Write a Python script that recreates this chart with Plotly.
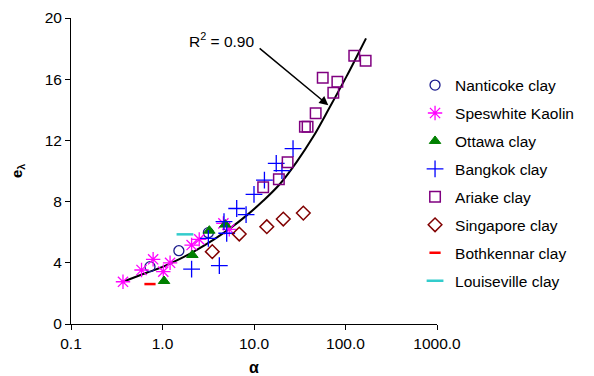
import math
import plotly.graph_objects as go

# ---- data ----
nanticoke_x = [0.73, 1.51, 3.17]
nanticoke_y = [3.75, 4.79, 5.97]

speswhite_x = [0.37, 0.59, 0.79, 1.02, 1.21, 2.08, 2.52, 4.63, 5.37]
speswhite_y = [2.76, 3.53, 4.23, 3.42, 4.00, 5.16, 5.53, 6.58, 6.19]

ottawa_x = [1.04, 2.12, 3.25, 4.85]
ottawa_y = [2.81, 4.51, 6.10, 6.50]

bangkok_x = [2.08, 4.18, 3.17, 5.03, 4.70, 6.47, 8.19, 10.0, 13.0, 17.5, 20.2, 26.7]
bangkok_y = [3.59, 3.81, 5.60, 5.93, 6.69, 7.55, 7.15, 8.47, 9.41, 10.5, 10.02, 11.46]

ariake_x = [12.6, 18.7, 23.3, 36.0, 38.5, 47.2, 73.6, 56.4, 81.5, 124.7, 166.0]
ariake_y = [8.93, 9.46, 10.57, 12.9, 12.9, 13.77, 15.12, 16.1, 15.84, 17.54, 17.21]

singapore_x = [3.5, 6.9, 13.8, 20.9, 34.6]
singapore_y = [4.73, 5.88, 6.36, 6.86, 7.25]

bothkennar_x = [0.73]
bothkennar_y = [2.61]

louiseville_x = [1.76]
louiseville_y = [5.86]

# trend curve (R^2 = 0.90)
fit_x = [0.37, 0.67, 1.02, 1.55, 2.37, 3.59, 5.47, 8.32, 12.6, 19.2, 29.3, 44.5, 67.7, 103.0, 132.0, 167.6]
fit_y = [2.76, 3.35, 3.75, 4.25, 4.85, 5.5, 6.25, 7.1, 8.05, 9.15, 10.6, 12.25, 14.2, 16.2, 17.45, 18.67]

# annotation anchor values (data units)
r2_label_pos = (4.36, 18.56)
arrow_head = (64.9, 14.3)
arrow_tail = (11.1, 18.1)

x_tickvals = [0.1, 1, 10, 100, 1000]
x_ticktext = ["0.1", "1.0", "10.0", "100.0", "1000.0"]
y_tickvals = [0, 4, 8, 12, 16, 20]

fig = go.Figure()

fig.add_trace(go.Scatter(x=fit_x, y=fit_y, mode="lines",
                         line=dict(color="black", width=2, shape="spline", smoothing=1.0),
                         showlegend=False, hoverinfo="skip"))

series = [
    ("Nanticoke clay", nanticoke_x, nanticoke_y, "circle-open", "#1a1a8c", 10, 1.3),
    ("Speswhite Kaolin", speswhite_x, speswhite_y, "asterisk-open", "#ff00ff", 12, 1.3),
    ("Ottawa clay", ottawa_x, ottawa_y, "triangle-up", "#008000", 10, 1),
    ("Bangkok clay", bangkok_x, bangkok_y, "cross-thin-open", "#0000ff", 12, 1.3),
    ("Ariake clay", ariake_x, ariake_y, "square-open", "#800080", 10.5, 1.5),
    ("Singapore clay", singapore_x, singapore_y, "diamond-open", "#800000", 10.5, 1.5),
    ("Bothkennar clay", bothkennar_x, bothkennar_y, "line-ew-open", "#ff0000", 8, 2.5),
    ("Louiseville clay", louiseville_x, louiseville_y, "line-ew-open", "#33cccc", 12, 2.5),
]
for i, (name, xs, ys, sym, col, size, lw) in enumerate(series):
    fig.add_trace(go.Scatter(
        x=xs, y=ys, mode="markers", name=name, legendgroup=f"g{i}",
        marker=dict(symbol=sym, size=size, color=col, line=dict(color=col, width=lw)),
    ))

fig.add_annotation(
    x=math.log10(arrow_head[0]), y=arrow_head[1], xref="x", yref="y",
    ax=math.log10(arrow_tail[0]), ay=arrow_tail[1], axref="x", ayref="y",
    text="", showarrow=True, arrowhead=2, arrowsize=1.2, arrowwidth=1.5, arrowcolor="black",
)
fig.add_annotation(
    x=math.log10(r2_label_pos[0]), y=r2_label_pos[1], xref="x", yref="y",
    text="R<sup>2</sup> = 0.90", showarrow=False, font=dict(size=15.5, color="black"),
)

fig.update_layout(
    width=594, height=376,
    margin=dict(l=71, r=157, t=18, b=52),
    paper_bgcolor="white", plot_bgcolor="white",
    font=dict(family="Liberation Sans, Arial, sans-serif", size=15.5, color="black"),
    legend=dict(x=0.94, y=0.835, xanchor="left", yanchor="top",
                font=dict(size=15.5), tracegroupgap=4.8, bgcolor="rgba(0,0,0,0)",
                itemwidth=30),
    xaxis=dict(type="log", range=[-1, 3], tickvals=x_tickvals, ticktext=x_ticktext,
               showline=True, linecolor="black", linewidth=1, ticks="outside", ticklen=5,
               tickcolor="black", showgrid=False, zeroline=False, automargin=False,
               title=dict(text="<b>α</b>", font=dict(size=16), standoff=11)),
    yaxis=dict(range=[0, 20], tickvals=y_tickvals,
               showline=True, linecolor="black", linewidth=1, ticks="outside", ticklen=5,
               tickcolor="black", showgrid=False, zeroline=False, automargin=False,
               title=dict(text="<b>e<sub>λ</sub></b>", font=dict(size=15), standoff=18)),
)

fig.write_html("out.html")
